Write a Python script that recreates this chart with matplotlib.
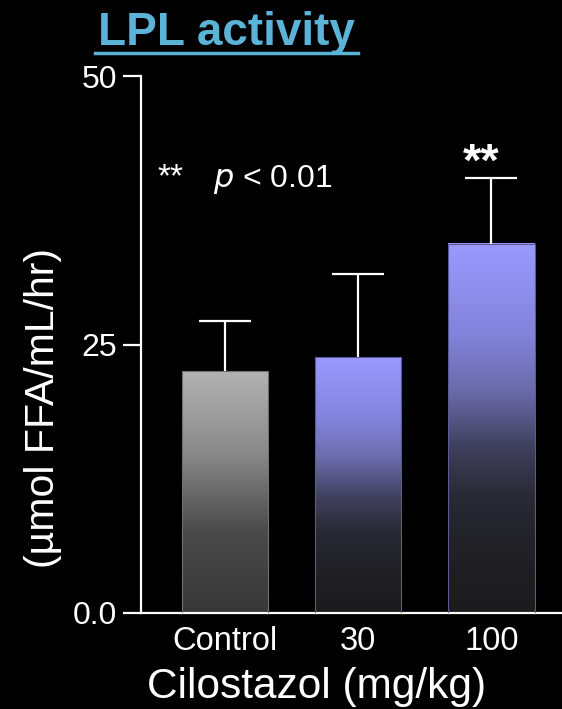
import numpy as np
import matplotlib
matplotlib.use("Agg")
import matplotlib.pyplot as plt
from matplotlib.colors import LinearSegmentedColormap
from matplotlib.patches import Rectangle
from matplotlib.lines import Line2D

# ---- data ----
categories = ["Control", "30", "100"]
means = [22.5, 23.8, 34.4]
sems = [4.7, 7.8, 6.1]
significance = ["", "", "**"]
yticks = [0, 25, 50]
ytick_labels = ["0.0", "25", "50"]

plt.rcParams['font.family'] = ['Liberation Sans', 'DejaVu Sans']

W, H = 562, 709
fig = plt.figure(figsize=(W / 100, H / 100), dpi=100, facecolor='black')
ax = fig.add_axes([141 / W, 1 - 613 / H, (W - 141) / W, (613 - 76) / H])
ax.set_facecolor('black')

gray_cmap = LinearSegmentedColormap.from_list('g', ['#383838', '#4a4a4a', '#8a8a8a', '#b2b2b2'])
lav_cmap = LinearSegmentedColormap.from_list('l', [(0.0, '#1b1b1c'), (0.2, '#222228'), (0.32, '#2a2a36'),
                                                  (0.45, '#40405e'), (0.6, '#6a6aaa'),
                                                  (0.75, '#8282da'), (1.0, '#9a9aff')])
cmaps = [gray_cmap, lav_cmap, lav_cmap]
edges = ['#707070', '#5a5a9a', '#5a5a9a']

width = 0.65
x = np.arange(len(categories))
grad = np.linspace(0, 1, 256).reshape(-1, 1)
for xi, m, cm, ec in zip(x, means, cmaps, edges):
    ax.imshow(grad, extent=[xi - width / 2, xi + width / 2, 0, m], origin='lower',
              cmap=cm, aspect='auto', zorder=2)
    ax.add_patch(Rectangle((xi - width / 2, 0), width, m, fill=False, edgecolor=ec,
                           linewidth=0.8, zorder=3))

eb = ax.errorbar(x, means, yerr=[np.zeros(len(sems)), sems], fmt='none', ecolor='white',
                 elinewidth=1.6, capsize=19, capthick=1.6, zorder=4)
# keep only upper caps
eb[1][0].set_visible(False)

for xi, m, s, sig in zip(x, means, sems, significance):
    if sig:
        ax.annotate(sig, (xi, m + s), xytext=(-7, 2), textcoords='offset points',
                    ha='center', va='baseline', color='white', fontsize=34, fontweight='bold')

ax.set_xlim(-0.63, 2.53)
ax.set_ylim(0, 50)
ax.set_xticks(x)
ax.set_xticklabels(categories)
ax.set_yticks(yticks)
ax.set_yticklabels(ytick_labels)
ax.tick_params(axis='x', length=0, pad=9, labelsize=23.5, colors='white')
ax.tick_params(axis='y', length=13, width=1.6, pad=4, labelsize=23, colors='white')

for sp in ['top', 'right']:
    ax.spines[sp].set_visible(False)
for sp in ['left', 'bottom']:
    ax.spines[sp].set_color('white')
    ax.spines[sp].set_linewidth(1.6)

ax.text(-0.51, 39.7, "**", color='white', fontsize=24, ha='left', va='baseline')
ax.text(-0.09, 39.7, r"$\it{p}$ < 0.01", color='white', fontsize=23, ha='left', va='baseline')

fig.text(43 / W, 1 - 408 / H, "(µmol FFA/mL/hr)", rotation=90, color='white',
         fontsize=29.5, ha='center', va='center')
fig.text(317 / W, 1 - 687 / H, "Cilostazol (mg/kg)", color='white',
         fontsize=30.5, ha='center', va='center')

title_color = '#5cb3d8'
fig.text(226 / W, 1 - 45 / H, "LPL activity", color=title_color, fontsize=33,
         fontweight='bold', ha='center', va='baseline')
fig.add_artist(Line2D([95 / W, 358 / W], [1 - 53 / H, 1 - 53 / H], color=title_color,
                      linewidth=2.5, transform=fig.transFigure))

fig.savefig("out.png", dpi=100, facecolor='black')
